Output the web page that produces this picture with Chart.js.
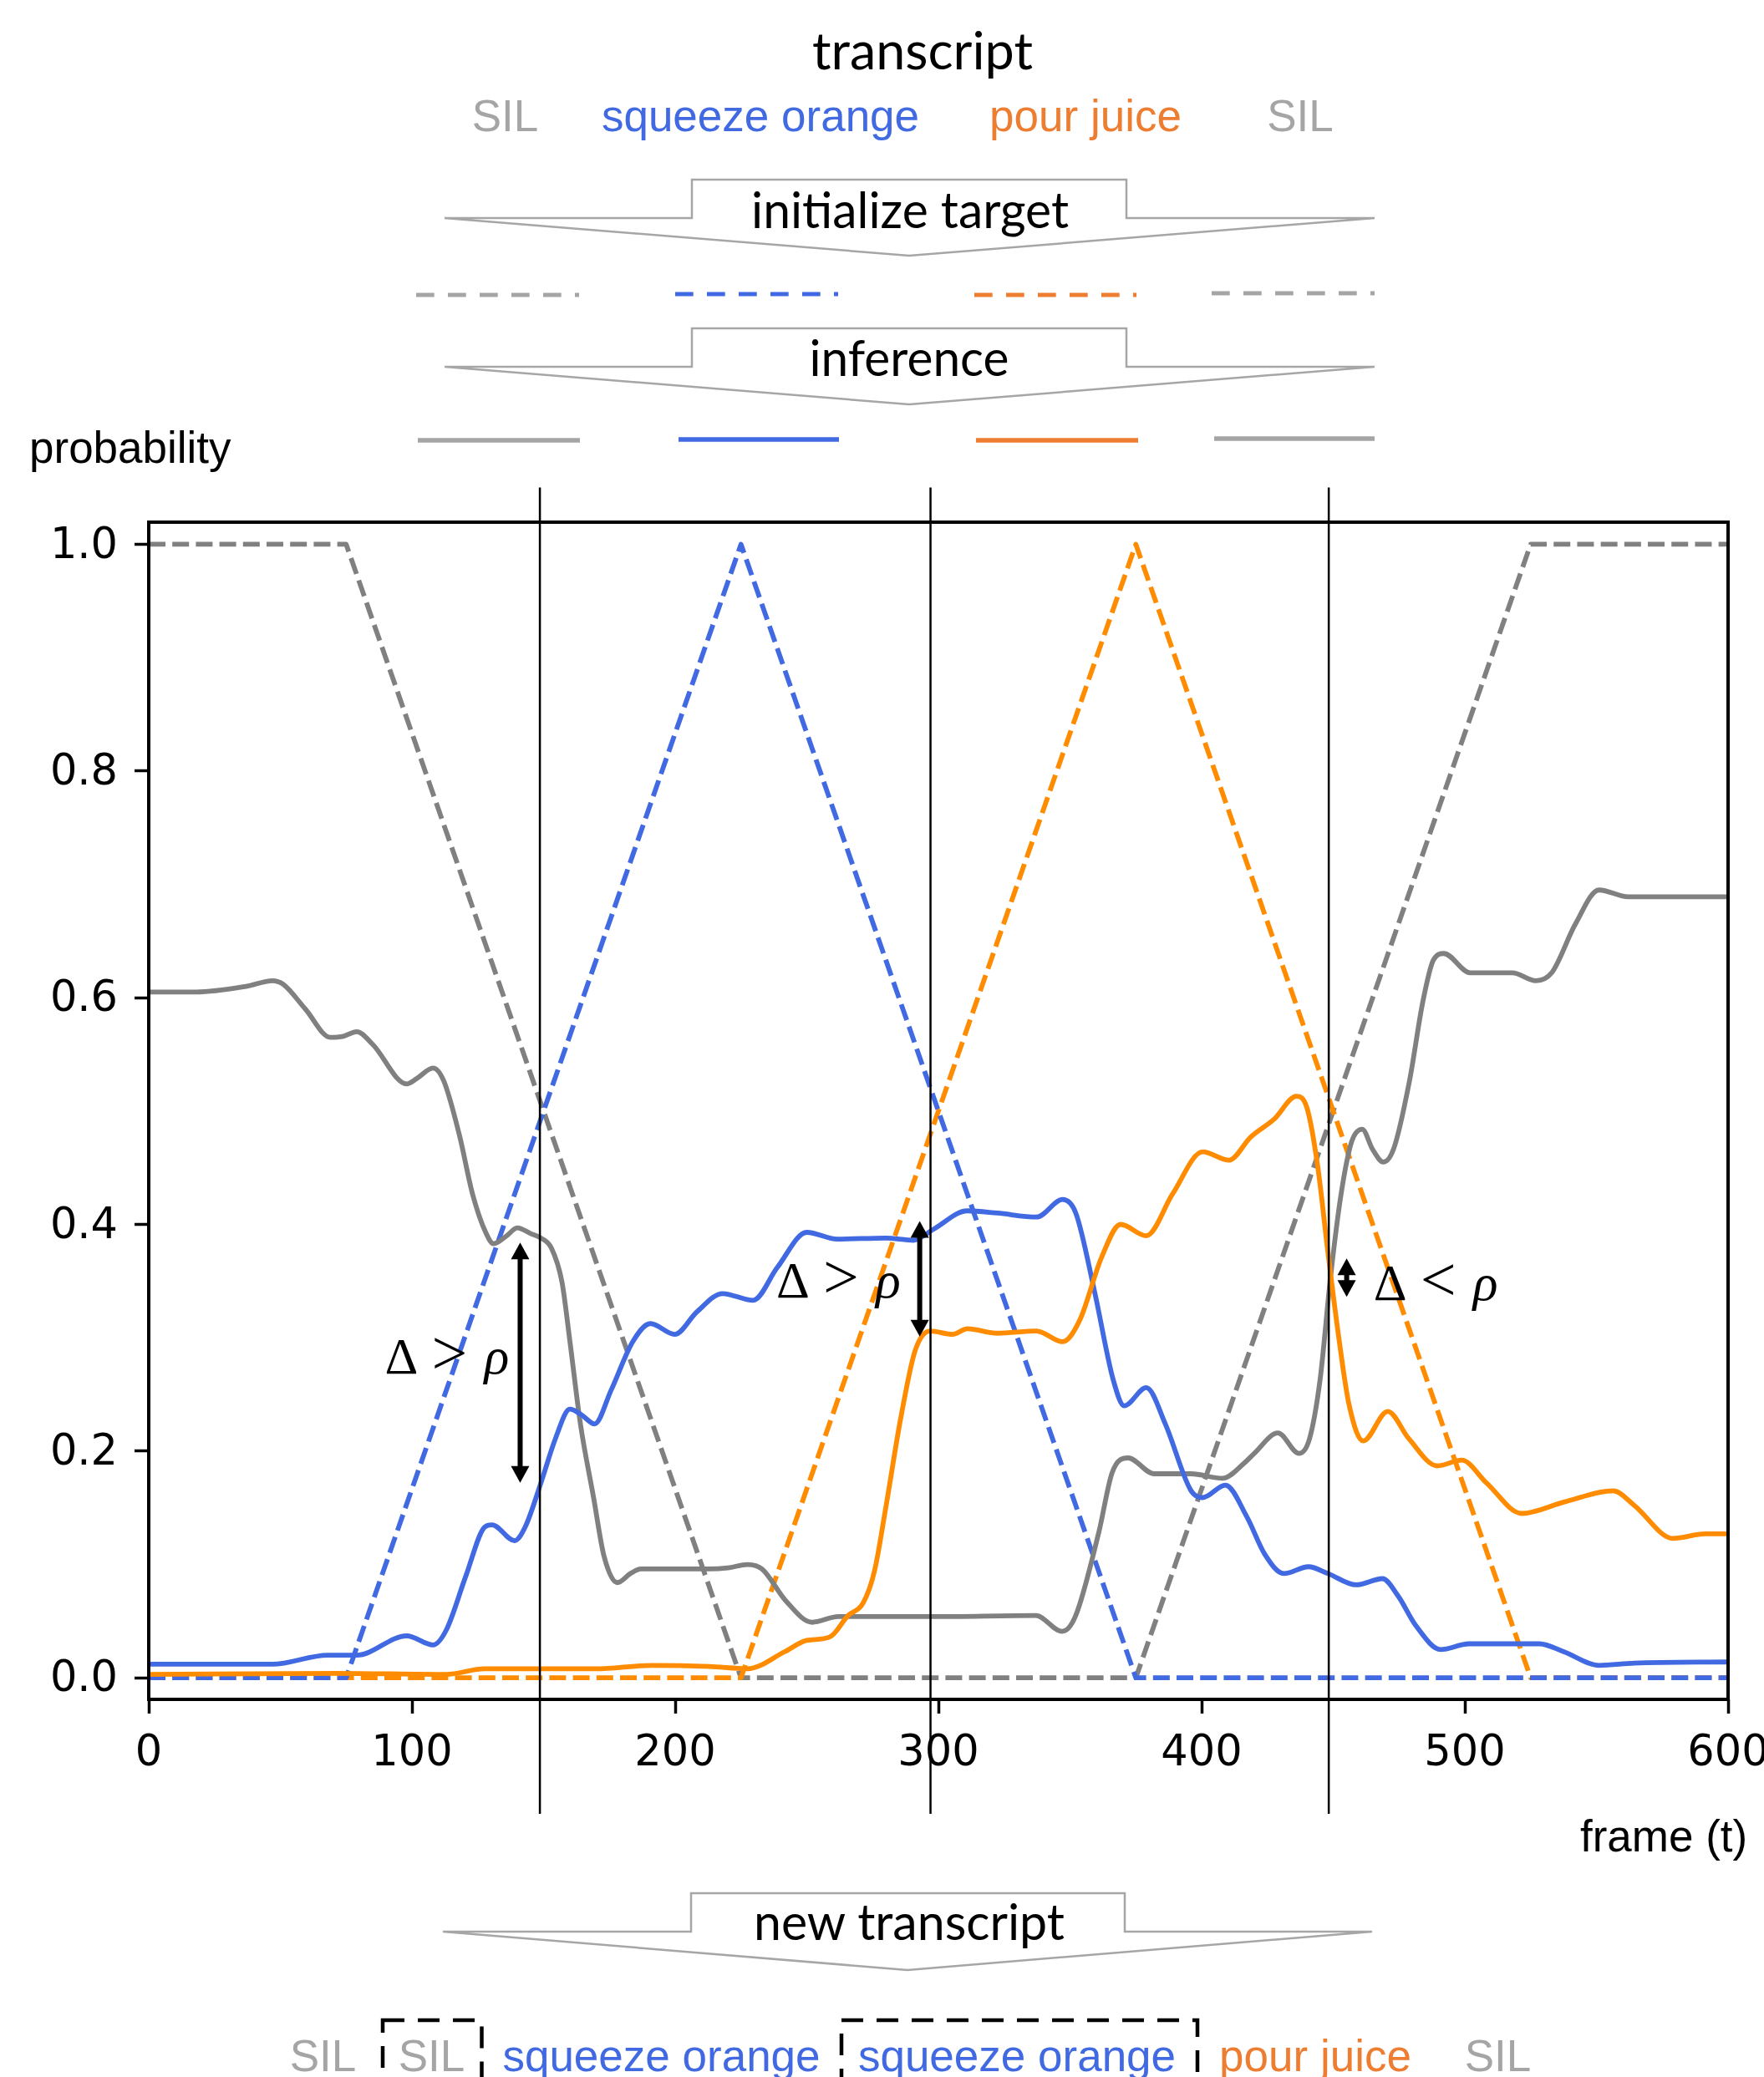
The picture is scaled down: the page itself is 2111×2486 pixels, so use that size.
<!DOCTYPE html>
<html>
<head>
<meta charset="utf-8">
<script src="https://cdn.jsdelivr.net/npm/chart.js@4.4.1/dist/chart.umd.min.js"></script>
<style>
html, body { margin: 0; padding: 0; background: #ffffff; overflow: hidden; }
#wrap { position: absolute; left: 0; top: 0; width: 2111px; height: 2486px; }
#deco { position: absolute; left: 0; top: 0; width: 2111px; height: 2486px; pointer-events: none; }
.sans { font-family: "Liberation Sans", Arial, sans-serif; }
.title { font-family: Lato, "Open Sans", sans-serif; }
</style>
</head>
<body>
<div id="wrap"><canvas id="c"></canvas></div>

<svg id="deco" xmlns="http://www.w3.org/2000/svg" width="2111" height="2486" viewBox="0 0 2111 2486">
  <!-- transcript -->
  <text class="title" x="1104" y="83" font-size="62" text-anchor="middle" fill="#000" textLength="264" lengthAdjust="spacingAndGlyphs">transcript</text>
  <g class="sans" font-size="53" text-anchor="middle">
    <text x="604.5" y="157" fill="#A5A5A5">SIL</text>
    <text x="910" y="157" fill="#4169E1">squeeze orange</text>
    <text x="1299" y="157" fill="#ED7D31">pour juice</text>
    <text x="1556" y="157" fill="#A5A5A5">SIL</text>
  </g>

  <!-- initialize target arrow -->
  <polygon points="532,261 828,261 828,215 1348,215 1348,261 1645,261 1088,306" fill="#fff" stroke="#A6A6A6" stroke-width="2.5" stroke-linejoin="miter"/>
  <text class="title" x="1089" y="273" font-size="60" text-anchor="middle" fill="#000" textLength="380" lengthAdjust="spacingAndGlyphs">initialize target</text>

  <!-- initial targets -->
  <g stroke-width="5" stroke-dasharray="21.7 16.3" fill="none">
    <line x1="498" y1="353" x2="693" y2="353" stroke="#A5A5A5"/>
    <line x1="808" y1="352" x2="1003" y2="352" stroke="#4169E1"/>
    <line x1="1166" y1="353" x2="1360" y2="353" stroke="#ED7D31"/>
    <line x1="1450" y1="351" x2="1645" y2="351" stroke="#A5A5A5"/>
  </g>

  <!-- inference arrow -->
  <polygon points="532,439 828,439 828,393 1348,393 1348,439 1645,439 1088,484" fill="#fff" stroke="#A6A6A6" stroke-width="2.5"/>
  <text class="title" x="1088" y="450" font-size="60" text-anchor="middle" fill="#000" textLength="239" lengthAdjust="spacingAndGlyphs">inference</text>

  <!-- inferred probabilities -->
  <g stroke-width="5.3" fill="none">
    <line x1="500" y1="527" x2="694" y2="527" stroke="#A5A5A5"/>
    <line x1="812" y1="526" x2="1004" y2="526" stroke="#4169E1"/>
    <line x1="1168" y1="527" x2="1362" y2="527" stroke="#ED7D31"/>
    <line x1="1453" y1="525" x2="1645" y2="525" stroke="#A5A5A5"/>
  </g>

  <text class="sans" x="35" y="554" font-size="53" fill="#000">probability</text>
  <text class="sans" x="1891" y="2216" font-size="53" fill="#000">frame (t)</text>

  <!-- new transcript arrow -->
  <polygon points="530,2312 827,2312 827,2266 1346,2266 1346,2312 1642,2312 1086,2358" fill="#fff" stroke="#A6A6A6" stroke-width="2.5"/>
  <text class="title" x="1088" y="2322" font-size="60" text-anchor="middle" fill="#000" textLength="372" lengthAdjust="spacingAndGlyphs">new transcript</text>

  <!-- new transcript -->
  <g fill="none" stroke="#000" stroke-width="4.5" stroke-dasharray="26 16">
    <rect x="458" y="2418" width="118.5" height="120"/>
    <rect x="1007" y="2418" width="426" height="120"/>
  </g>
  <g class="sans" font-size="53" text-anchor="middle">
    <text x="386.5" y="2479" fill="#A5A5A5">SIL</text>
    <text x="516.5" y="2479" fill="#A5A5A5">SIL</text>
    <text x="791.5" y="2479" fill="#4169E1">squeeze orange</text>
    <text x="1217" y="2479" fill="#4169E1">squeeze orange</text>
    <text x="1574" y="2479" fill="#ED7D31">pour juice</text>
    <text x="1792.5" y="2479" fill="#A5A5A5">SIL</text>
  </g>
</svg>

<script>
// ---------- data ----------
// initial (target) probabilities, piecewise linear
const targetFrames  = [0, 75, 225, 375, 525, 600];
const silTarget     = [1, 1, 0, 0, 1, 1];
const squeezeTarget = [0, 0, 1, 0, 0, 0];
const pourTarget    = [0, 0, 0, 1, 0, 0];

// inferred probabilities
const silFrames = [0, 18, 37, 47, 51, 59.5, 69, 74, 79, 85, 98, 102, 108, 112, 118, 123, 128, 131, 136, 140,
  145, 149, 153, 157, 160, 164, 169, 173, 178, 183, 187, 201, 213, 220, 227.5, 233, 242, 252, 262, 298,
  337, 347, 352, 361, 366, 372, 382, 396, 408, 416, 420, 429, 437, 441, 445, 449, 453, 457, 461, 465,
  469, 473, 479, 484, 488, 492, 502, 518, 527, 533, 542, 551, 562, 600];
const silProb = [0.605, 0.605, 0.610, 0.615, 0.612, 0.590, 0.565, 0.566, 0.570, 0.559, 0.524, 0.529, 0.538, 0.527, 0.479, 0.427, 0.393, 0.383, 0.390, 0.397,
  0.392, 0.388, 0.379, 0.349, 0.297, 0.224, 0.159, 0.107, 0.084, 0.092, 0.096, 0.096, 0.096, 0.097, 0.100, 0.096, 0.068, 0.049, 0.054, 0.054,
  0.055, 0.041, 0.054, 0.129, 0.181, 0.194, 0.180, 0.180, 0.176, 0.189, 0.198, 0.216, 0.198, 0.211, 0.263, 0.354, 0.427, 0.473, 0.484, 0.466,
  0.455, 0.467, 0.527, 0.596, 0.633, 0.639, 0.622, 0.622, 0.615, 0.622, 0.665, 0.695, 0.689, 0.689];

const squeezeFrames = [0, 47, 68, 79, 98, 108, 113, 120.5, 127.6, 130.4, 139, 143, 149, 154.5, 160, 164.4, 169.4, 175.7, 184, 190.6,
  199.8, 208.3, 218, 229.6, 238.8, 250, 261.5, 280, 290.5, 298.3, 311, 322.4, 337.3, 347.2, 352.2, 359.3, 366.4, 370.6, 379, 386.2,
  396, 400.4, 409, 417.2, 424, 431.2, 440.6, 448, 458.7, 468.7, 474.7, 481.4, 490.8, 501.5, 528.3, 537.6, 551, 564.4, 600];
const squeezeProb = [0.012, 0.012, 0.020, 0.020, 0.037, 0.029, 0.042, 0.090, 0.133, 0.135, 0.121, 0.133, 0.172, 0.211, 0.237, 0.232, 0.224, 0.254, 0.297, 0.3125,
  0.303, 0.323, 0.339, 0.333, 0.362, 0.393, 0.387, 0.388, 0.386, 0.396, 0.412, 0.410, 0.4065, 0.422, 0.410, 0.341, 0.263, 0.240, 0.256, 0.224,
  0.165, 0.159, 0.170, 0.142, 0.109, 0.092, 0.098, 0.092, 0.082, 0.0875, 0.072, 0.046, 0.025, 0.030, 0.030, 0.023, 0.011, 0.013, 0.014];

const pourFrames = [0, 71, 113, 127.6, 170, 191, 213, 227.5, 241.6, 250, 258.7, 265.7, 271.4, 275.7, 280, 285.6, 291.2, 296.9, 305.4, 311,
  322.4, 337.3, 347.2, 353.6, 362, 369.2, 379, 389, 400.4, 410.4, 418.6, 427.6, 436, 440, 444, 448, 452, 456, 461.4, 470.7,
  478.7, 489.5, 498.8, 508.2, 521.6, 537.6, 556.4, 564.4, 579.1, 591.2, 600];
const pourProb = [0.003, 0.004, 0.003, 0.008, 0.008, 0.011, 0.010, 0.008, 0.023, 0.033, 0.036, 0.055, 0.066, 0.094, 0.150, 0.228, 0.289, 0.306, 0.303, 0.308,
  0.304, 0.306, 0.2965, 0.315, 0.371, 0.400, 0.390, 0.427, 0.464, 0.4566, 0.477, 0.493, 0.513, 0.503, 0.453, 0.375, 0.302, 0.241, 0.209, 0.235,
  0.211, 0.187, 0.192, 0.172, 0.145, 0.155, 0.165, 0.152, 0.123, 0.127, 0.127];

// axis ticks
const xTickValues = [0, 100, 200, 300, 400, 500, 600];
const yTickValues = [0.0, 0.2, 0.4, 0.6, 0.8, 1.0];

// segment boundaries (vertical lines), in frames / probability extents
const boundaryFrames = [148.6, 297, 448.3];
const boundaryExtent = [1.05, -0.12];

// Δ annotations
const deltaFrames = [141.1, 292.9, 455.1];
const deltaTop    = [0.384, 0.403, 0.370];
const deltaBottom = [0.172, 0.301, 0.336];
const deltaRelation = ['>', '>', '<'];
const deltaLabelFrame = [90.0, 238.7, 465.6];
const deltaLabelProb  = [0.2687, 0.3353, 0.3335];

// ---------- chart ----------
const toXY = (xs, ys) => xs.map((v, i) => ({ x: v, y: ys[i] }));
const GRAY = '#808080', BLUE = '#4169E1', ORANGE = '#FF8C00';

const dashed = { borderDash: [20, 8.2], borderWidth: 5.8, tension: 0, pointRadius: 0, borderCapStyle: 'butt', borderJoinStyle: 'round', fill: false };
const solid  = { borderWidth: 5.8, cubicInterpolationMode: 'monotone', pointRadius: 0, borderCapStyle: 'round', borderJoinStyle: 'round', fill: false };

const SERIF = '"Liberation Serif", "DejaVu Serif", serif';

const overlay = {
  id: 'overlay',
  afterDatasetsDraw(chart) {
    const { ctx, chartArea: a, scales: { x, y } } = chart;
    ctx.save();
    ctx.strokeStyle = '#000';
    ctx.fillStyle = '#000';
    ctx.lineWidth = 4;
    ctx.strokeRect(a.left, a.top, a.right - a.left, a.bottom - a.top);

    ctx.lineWidth = 2.5;
    boundaryFrames.forEach(f => {
      const px = x.getPixelForValue(f);
      ctx.beginPath();
      ctx.moveTo(px, y.getPixelForValue(boundaryExtent[0]));
      ctx.lineTo(px, y.getPixelForValue(boundaryExtent[1]));
      ctx.stroke();
    });

    const hl = 20, hw = 11;
    deltaFrames.forEach((f, i) => {
      const px = x.getPixelForValue(f);
      const yt = y.getPixelForValue(deltaTop[i]);
      const yb = y.getPixelForValue(deltaBottom[i]);
      ctx.lineWidth = 6;
      ctx.beginPath(); ctx.moveTo(px, yt + hl - 2); ctx.lineTo(px, yb - hl + 2); ctx.stroke();
      ctx.beginPath(); ctx.moveTo(px, yt); ctx.lineTo(px - hw, yt + hl); ctx.lineTo(px + hw, yt + hl); ctx.closePath(); ctx.fill();
      ctx.beginPath(); ctx.moveTo(px, yb); ctx.lineTo(px - hw, yb - hl); ctx.lineTo(px + hw, yb - hl); ctx.closePath(); ctx.fill();
    });

    ctx.textAlign = 'left';
    ctx.textBaseline = 'alphabetic';
    deltaRelation.forEach((rel, i) => {
      const px = x.getPixelForValue(deltaLabelFrame[i]);
      const py = y.getPixelForValue(deltaLabelProb[i]);
      ctx.font = '62px ' + SERIF;
      ctx.fillText('Δ', px - 1, py);
      ctx.font = '76px ' + SERIF;
      ctx.fillText(rel, px + 55, py + 1);
      ctx.font = 'italic 62px ' + SERIF;
      ctx.fillText('ρ', px + 118, py);
    });
    ctx.restore();
  }
};

Chart.defaults.font.family = '"DejaVu Sans", sans-serif';
Chart.defaults.color = '#000';

new Chart(document.getElementById('c'), {
  type: 'line',
  data: {
    datasets: [
      { label: 'SIL target', data: toXY(targetFrames, silTarget), borderColor: GRAY, order: 6, ...dashed },
      { label: 'pour juice target', data: toXY(targetFrames, pourTarget), borderColor: ORANGE, order: 5, ...dashed },
      { label: 'squeeze orange target', data: toXY(targetFrames, squeezeTarget), borderColor: BLUE, order: 4, ...dashed },
      { label: 'SIL', data: toXY(silFrames, silProb), borderColor: GRAY, order: 3, ...solid },
      { label: 'squeeze orange', data: toXY(squeezeFrames, squeezeProb), borderColor: BLUE, order: 2, ...solid },
      { label: 'pour juice', data: toXY(pourFrames, pourProb), borderColor: ORANGE, order: 1, ...solid }
    ]
  },
  options: {
    responsive: true,
    maintainAspectRatio: false,
    devicePixelRatio: 1,
    animation: false,
    events: [],
    layout: { padding: { top: 625, right: 43, bottom: 332, left: 0 } },
    plugins: { legend: { display: false }, tooltip: { enabled: false }, title: { display: false } },
    scales: {
      x: {
        type: 'linear', min: 0, max: 600,
        afterBuildTicks: s => { s.ticks = xTickValues.map(v => ({ value: v })); },
        ticks: { font: { size: 51 }, color: '#000', padding: 18, maxRotation: 0, autoSkip: false, callback: v => String(v) },
        grid: { drawOnChartArea: false, drawTicks: true, tickLength: 17, tickWidth: 3.5, tickColor: '#000', color: '#000' },
        border: { display: false },
        afterFit: s => { s.height = 120; s.paddingLeft = 0; s.paddingRight = 0; }
      },
      y: {
        type: 'linear', min: -0.019, max: 1.0195,
        afterBuildTicks: s => { s.ticks = yTickValues.map(v => ({ value: v })); },
        ticks: { font: { size: 51 }, color: '#000', padding: 20, labelOffset: 3, callback: v => Number(v).toFixed(1) },
        grid: { drawOnChartArea: false, drawTicks: true, tickLength: 17, tickWidth: 3.5, tickColor: '#000', color: '#000' },
        border: { display: false },
        afterFit: s => { s.width = 178; s.paddingTop = 0; s.paddingBottom = 0; }
      }
    }
  },
  plugins: [overlay]
});
</script>
</body>
</html>
